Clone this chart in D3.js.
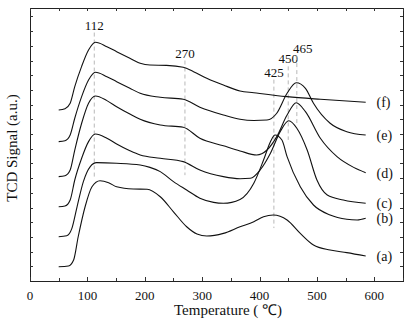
<!DOCTYPE html>
<html>
<head>
<meta charset="utf-8">
<script src="https://cdn.jsdelivr.net/npm/d3@7"></script>
<style>
  html, body { margin: 0; padding: 0; background: #fff; }
  svg text { font-family: "Liberation Serif", "Times New Roman", serif; fill: #111; }
</style>
</head>
<body>
<svg id="chart" width="416" height="322"></svg>
<script>
// TPR profiles: [temperature (°C), TCD signal (a.u., offset per sample)]
const seriesA = [[50,0.97],[67,1.02],[76,1.43],[84,3.01],[96,5.05],[108,6.41],[122,6.82],[137,6.69],[151,6.41],[180,6.26],[204,6.24],[227,5.73],[250,4.71],[273,3.69],[291,3.20],[308,3.06],[337,3.24],[366,3.69],[390,4.03],[407,4.37],[424,4.49],[448,4.15],[471,3.24],[494,2.45],[523,2.11],[552,1.93],[585,1.70]];
const seriesB = [[50,3.01],[64,3.08],[73,3.58],[82,5.05],[93,6.76],[105,7.78],[116,8.05],[151,8.01],[192,7.89],[209,7.73],[227,7.44],[250,6.76],[273,6.19],[296,5.63],[320,5.35],[337,5.29],[366,5.55],[390,6.65],[407,8.23],[419,9.48],[427,9.93],[439,9.59],[448,8.46],[471,6.41],[494,5.17],[523,4.49],[552,4.20],[570,4.15],[585,4.27]];
const seriesC = [[50,5.05],[61,5.10],[70,5.51],[78,6.87],[90,8.35],[102,9.48],[114,10.00],[134,9.71],[151,9.32],[174,8.86],[192,8.57],[227,8.35],[267,8.12],[296,7.55],[337,7.10],[366,6.96],[384,6.99],[401,7.55],[419,8.69],[436,10.16],[451,10.90],[465,10.39],[483,8.91],[500,6.87],[518,5.85],[546,5.51],[585,5.29]];
const seriesD = [[50,7.10],[61,7.16],[70,7.55],[78,8.91],[90,10.73],[102,12.09],[114,12.59],[134,12.27],[151,11.86],[174,11.36],[192,11.00],[227,10.61],[267,10.46],[296,9.71],[337,9.20],[366,8.85],[395,8.57],[413,8.91],[430,9.82],[448,11.29],[464,12.13],[480,11.52],[506,9.71],[535,8.46],[564,7.73],[585,7.37]];
const seriesE = [[50,9.48],[61,9.54],[70,9.93],[78,11.07],[90,12.54],[102,13.67],[114,14.20],[134,13.90],[151,13.56],[174,13.11],[192,12.77],[227,12.50],[267,12.36],[296,11.82],[337,11.29],[366,11.00],[390,10.92],[413,10.95],[430,11.41],[448,12.77],[464,13.49],[480,13.11],[494,12.09],[523,10.73],[552,10.16],[585,9.93]];
const seriesF = [[50,11.63],[61,11.72],[70,12.09],[78,13.22],[90,14.60],[102,15.71],[114,16.24],[134,15.94],[151,15.60],[174,15.15],[192,14.81],[209,14.69],[238,14.67],[267,14.54],[285,14.24],[308,13.79],[337,13.33],[366,12.93],[390,12.81],[448,12.54],[506,12.36],[585,12.16]];

const seriesLabels = ["(a)", "(b)", "(c)", "(d)", "(e)", "(f)"];

// Peak markers: temperature and vertical extent of each dashed guide (signal units)
const peakTemps  = [112, 270, 425, 450, 465];
const peakTop    = [16.9, 15.0, 13.7, 14.6, 15.3];
const peakBottom = [7.1, 7.2, 3.6, 9.6, 10.7];

const xTicks = [0, 100, 200, 300, 400, 500, 600];

(function draw() {
  const W = 416, H = 322;
  const mLeft = 30, mRight = 403, mTop = 8, mBottom = 281;

  const svg = d3.select("#chart");

  const x = d3.scaleLinear().domain([0, 650]).range([mLeft, mRight]);
  const y = d3.scaleLinear().domain([0, 273 / 14.7]).range([mBottom, mTop]);

  // frame
  svg.append("rect")
    .attr("x", mLeft + 0.5).attr("y", mTop + 0.5)
    .attr("width", mRight - mLeft).attr("height", mBottom - mTop)
    .attr("fill", "none").attr("stroke", "#222").attr("stroke-width", 1);

  // inward ticks on all four sides
  const minorX = d3.range(0, 651, 50);
  const gT = svg.append("g").attr("stroke", "#333").attr("stroke-width", 1);
  minorX.forEach(t => {
    const xx = Math.round(x(t)) + 0.5;
    const len = t % 100 === 0 ? 4 : 3;
    gT.append("line").attr("x1", xx).attr("x2", xx).attr("y1", mBottom).attr("y2", mBottom - len);
    gT.append("line").attr("x1", xx).attr("x2", xx).attr("y1", mTop).attr("y2", mTop + 3);
  });
  d3.range(1, 19).forEach(v => {
    const yy = Math.round(y(v)) + 0.5;
    gT.append("line").attr("x1", mLeft).attr("x2", mLeft + 3).attr("y1", yy).attr("y2", yy);
    gT.append("line").attr("x1", mRight).attr("x2", mRight - 3).attr("y1", yy).attr("y2", yy);
  });

  // x tick labels
  svg.append("g").selectAll("text").data(xTicks).join("text")
    .attr("x", d => x(d)).attr("y", 300)
    .attr("text-anchor", "middle")
    .attr("font-size", 13)
    .text(d => d);

  // axis titles
  svg.append("text")
    .attr("x", 228).attr("y", 315)
    .attr("text-anchor", "middle").attr("font-size", 15)
    .text("Temperature ( \u2103)");

  svg.append("text")
    .attr("transform", "translate(16.5,148) rotate(-90)")
    .attr("text-anchor", "middle").attr("font-size", 15)
    .text("TCD Signal (a.u.)");

  // dashed peak guides
  const guides = svg.append("g");
  peakTemps.forEach((t, i) => {
    guides.append("line")
      .attr("x1", x(t)).attr("x2", x(t))
      .attr("y1", y(peakTop[i])).attr("y2", y(peakBottom[i]))
      .attr("stroke", "#b8b8b8").attr("stroke-width", 1)
      .attr("stroke-dasharray", "4,3");
    guides.append("text")
      .attr("x", x(t) + (t === 465 ? 6 : 0))
      .attr("y", y(peakTop[i]) - 3)
      .attr("text-anchor", "middle").attr("font-size", 13)
      .text(t);
  });

  // profiles
  const line = d3.line()
    .x(d => x(d[0]))
    .y(d => y(d[1]))
    .curve(d3.curveMonotoneX);

  const allSeries = [seriesA, seriesB, seriesC, seriesD, seriesE, seriesF];
  svg.append("g").selectAll("path").data(allSeries).join("path")
    .attr("d", line)
    .attr("fill", "none")
    .attr("stroke", "#111")
    .attr("stroke-width", 1.1);

  // series labels at the right end of each profile
  svg.append("g").selectAll("text").data(allSeries).join("text")
    .attr("x", 376.5)
    .attr("y", d => y(d[d.length - 1][1]))
    .attr("dy", "0.35em")
    .attr("font-size", 14)
    .text((d, i) => seriesLabels[i]);
})();
</script>
</body>
</html>
